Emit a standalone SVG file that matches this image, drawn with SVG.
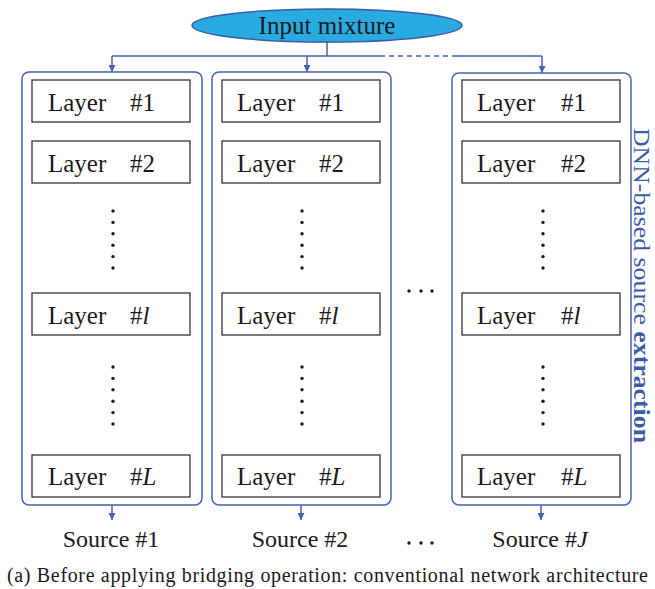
<svg xmlns="http://www.w3.org/2000/svg" width="655" height="589" viewBox="0 0 655 589">
<style>
.col{fill:none;stroke:#4462B0;stroke-width:1.5}
.lay{fill:#fff;stroke:#333;stroke-width:1.3}
.t{font-family:"Liberation Serif","Times New Roman",serif;font-size:24px;fill:#1a1a1a}
.l{font-size:25px}
.c{stroke:#4462B0;stroke-width:1.5;fill:none}
.dot{fill:#1a1a1a}
</style>
<defs>
<marker id="ah" viewBox="0 0 10 10" refX="10" refY="5" markerWidth="7" markerHeight="7" markerUnits="userSpaceOnUse" orient="auto">
<path d="M0,0 L10,5 L0,10 z" fill="#4462B0"/>
</marker>
</defs>
<rect width="655" height="589" fill="#fff"/>

<g id="connectors">
<line class="c" x1="327" y1="42" x2="327" y2="56"/>
<line class="c" x1="112" y1="56" x2="380" y2="56"/>
<line class="c" x1="380" y1="56" x2="452" y2="56" stroke-dasharray="5,4"/>
<line class="c" x1="452" y1="56" x2="542" y2="56"/>
<line class="c" x1="112" y1="56" x2="112" y2="72" marker-end="url(#ah)"/>
<line class="c" x1="307" y1="56" x2="307" y2="72" marker-end="url(#ah)"/>
<line class="c" x1="542" y1="56" x2="542" y2="73" marker-end="url(#ah)"/>
<line class="c" x1="112" y1="505" x2="112" y2="520" marker-end="url(#ah)"/>
<line class="c" x1="301" y1="505" x2="301" y2="520" marker-end="url(#ah)"/>
<line class="c" x1="541" y1="505" x2="541" y2="520" marker-end="url(#ah)"/>
</g>

<g id="input">
<ellipse cx="327" cy="25.5" rx="135" ry="16.5" fill="#29ABE2" stroke="#3B5BA5" stroke-width="1.5"/>
<text class="t l" x="327" y="34" text-anchor="middle">Input mixture</text>
</g>

<g id="column1">
<rect class="col" x="22" y="72" width="180" height="433" rx="7"/>
<rect class="lay" x="32" y="80" width="158" height="42"/>
<text class="t l" x="48" y="111">Layer</text><text class="t l" x="130" y="111">#1</text>
<rect class="lay" x="32" y="141" width="158" height="42"/>
<text class="t l" x="48" y="172">Layer</text><text class="t l" x="130" y="172">#2</text>
<rect class="lay" x="32" y="293" width="158" height="42"/>
<text class="t l" x="48" y="324">Layer</text><text class="t l" x="130" y="324">#<tspan font-style="italic">l</tspan></text>
<rect class="lay" x="32" y="455" width="158" height="42"/>
<text class="t l" x="48" y="485">Layer</text><text class="t l" x="130" y="485">#<tspan font-style="italic">L</tspan></text>
<g class="dot">
<circle cx="113" cy="211" r="1.7"/><circle cx="113" cy="222.4" r="1.7"/><circle cx="113" cy="233.8" r="1.7"/><circle cx="113" cy="245.2" r="1.7"/><circle cx="113" cy="256.6" r="1.7"/><circle cx="113" cy="268" r="1.7"/>
<circle cx="113" cy="367" r="1.7"/><circle cx="113" cy="378.4" r="1.7"/><circle cx="113" cy="389.8" r="1.7"/><circle cx="113" cy="401.2" r="1.7"/><circle cx="113" cy="412.6" r="1.7"/><circle cx="113" cy="424" r="1.7"/>
</g>
</g>

<g id="column2">
<rect class="col" x="212" y="72" width="179" height="433" rx="7"/>
<rect class="lay" x="222" y="80" width="158" height="42"/>
<text class="t l" x="237" y="111">Layer</text><text class="t l" x="319" y="111">#1</text>
<rect class="lay" x="222" y="141" width="158" height="42"/>
<text class="t l" x="237" y="172">Layer</text><text class="t l" x="319" y="172">#2</text>
<rect class="lay" x="222" y="293" width="158" height="42"/>
<text class="t l" x="237" y="324">Layer</text><text class="t l" x="319" y="324">#<tspan font-style="italic">l</tspan></text>
<rect class="lay" x="222" y="455" width="158" height="42"/>
<text class="t l" x="237" y="485">Layer</text><text class="t l" x="319" y="485">#<tspan font-style="italic">L</tspan></text>
<g class="dot">
<circle cx="302" cy="211" r="1.7"/><circle cx="302" cy="222.4" r="1.7"/><circle cx="302" cy="233.8" r="1.7"/><circle cx="302" cy="245.2" r="1.7"/><circle cx="302" cy="256.6" r="1.7"/><circle cx="302" cy="268" r="1.7"/>
<circle cx="302" cy="367" r="1.7"/><circle cx="302" cy="378.4" r="1.7"/><circle cx="302" cy="389.8" r="1.7"/><circle cx="302" cy="401.2" r="1.7"/><circle cx="302" cy="412.6" r="1.7"/><circle cx="302" cy="424" r="1.7"/>
</g>
</g>

<g id="column3">
<rect class="col" x="452" y="73" width="179" height="432" rx="7"/>
<rect class="lay" x="462" y="80" width="158" height="42"/>
<text class="t l" x="477" y="111">Layer</text><text class="t l" x="561" y="111">#1</text>
<rect class="lay" x="462" y="141" width="158" height="42"/>
<text class="t l" x="477" y="172">Layer</text><text class="t l" x="561" y="172">#2</text>
<rect class="lay" x="462" y="293" width="158" height="42"/>
<text class="t l" x="477" y="324">Layer</text><text class="t l" x="561" y="324">#<tspan font-style="italic">l</tspan></text>
<rect class="lay" x="462" y="455" width="158" height="42"/>
<text class="t l" x="477" y="485">Layer</text><text class="t l" x="561" y="485">#<tspan font-style="italic">L</tspan></text>
<g class="dot">
<circle cx="543" cy="211" r="1.7"/><circle cx="543" cy="222.4" r="1.7"/><circle cx="543" cy="233.8" r="1.7"/><circle cx="543" cy="245.2" r="1.7"/><circle cx="543" cy="256.6" r="1.7"/><circle cx="543" cy="268" r="1.7"/>
<circle cx="543" cy="367" r="1.7"/><circle cx="543" cy="378.4" r="1.7"/><circle cx="543" cy="389.8" r="1.7"/><circle cx="543" cy="401.2" r="1.7"/><circle cx="543" cy="412.6" r="1.7"/><circle cx="543" cy="424" r="1.7"/>
</g>
</g>

<g id="ellipsis-mid" class="dot">
<circle cx="409" cy="291" r="1.7"/><circle cx="421" cy="291" r="1.7"/><circle cx="432" cy="291" r="1.7"/>
</g>
<g id="ellipsis-bottom" class="dot">
<circle cx="409" cy="543" r="1.7"/><circle cx="421" cy="543" r="1.7"/><circle cx="432" cy="543" r="1.7"/>
</g>

<g id="sources">
<text class="t" x="111" y="547" text-anchor="middle">Source #1</text>
<text class="t" x="300" y="547" text-anchor="middle">Source #2</text>
<text class="t" x="540" y="547" text-anchor="middle">Source #<tspan font-style="italic">J</tspan></text>
</g>

<g id="side-label">
<text transform="translate(634,128) rotate(90)" x="0" y="0" font-family="Liberation Serif,Times New Roman,serif" font-size="23" fill="#3B5BA5" textLength="315" lengthAdjust="spacingAndGlyphs">DNN-based source <tspan font-weight="bold">extraction</tspan></text>
</g>

<text id="caption" x="7" y="582" font-family="Liberation Serif,Times New Roman,serif" font-size="20" fill="#1a1a1a" textLength="641" lengthAdjust="spacing">(a) Before applying bridging operation: conventional network architecture</text>
</svg>
